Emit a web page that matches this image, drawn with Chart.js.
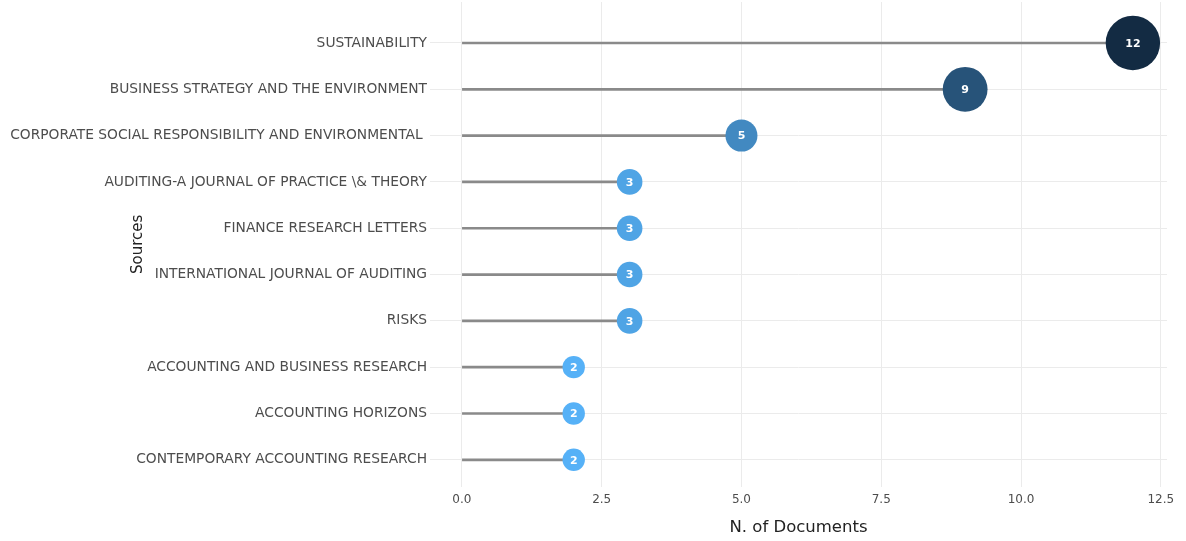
<!DOCTYPE html>
<html>
<head>
<meta charset="utf-8">
<script src="https://cdn.jsdelivr.net/npm/chart.js@4.4.1/dist/chart.umd.min.js"></script>
<style>
  html, body { margin: 0; padding: 0; background: #fff; }
  #wrap { width: 1186px; height: 541px; position: relative; }
</style>
</head>
<body>
<div id="wrap"><canvas id="sourcesChart"></canvas></div>
<script>
const sources = [
  "SUSTAINABILITY",
  "BUSINESS STRATEGY AND THE ENVIRONMENT",
  "CORPORATE SOCIAL RESPONSIBILITY AND ENVIRONMENTAL ",
  "AUDITING-A JOURNAL OF PRACTICE \\& THEORY",
  "FINANCE RESEARCH LETTERS",
  "INTERNATIONAL JOURNAL OF AUDITING",
  "RISKS",
  "ACCOUNTING AND BUSINESS RESEARCH",
  "ACCOUNTING HORIZONS",
  "CONTEMPORARY ACCOUNTING RESEARCH"
];
const documents = [12, 9, 5, 3, 3, 3, 3, 2, 2, 2];
const xTicks = [0, 2.5, 5, 7.5, 10, 12.5];

// gradient low -> high, like ggplot's default continuous scale
const low = [0x56, 0xb1, 0xf7], high = [0x13, 0x2b, 0x43];
const vMin = Math.min(...documents), vMax = Math.max(...documents);
function colorFor(v) {
  const t = (v - vMin) / (vMax - vMin);
  const c = low.map((l, k) => Math.round(l + (high[k] - l) * t));
  return `rgb(${c[0]},${c[1]},${c[2]})`;
}
function radiusFor(v) { return 8 + 1.6 * v; }

const points = documents.map((v, i) => ({ x: v, y: i }));

const bubbleLabels = {
  id: 'bubbleLabels',
  afterDatasetsDraw(chart) {
    const ctx = chart.ctx;
    const meta = chart.getDatasetMeta(1);
    ctx.save();
    ctx.fillStyle = '#ffffff';
    ctx.font = 'bold 11px "DejaVu Sans"';
    ctx.textAlign = 'center';
    ctx.textBaseline = 'middle';
    meta.data.forEach((el, i) => {
      ctx.fillText(String(documents[i]), el.x, el.y + 1);
    });
    ctx.restore();
  }
};

const yTitle = {
  id: 'yTitle',
  afterDraw(chart) {
    const ctx = chart.ctx;
    const area = chart.chartArea;
    ctx.save();
    ctx.translate(138, (area.top + area.bottom) / 2);
    ctx.rotate(-Math.PI / 2);
    ctx.fillStyle = '#222';
    ctx.font = '15px "DejaVu Sans"';
    ctx.textAlign = 'center';
    ctx.textBaseline = 'middle';
    ctx.fillText('Sources', 0, 0);
    ctx.restore();
  }
};

new Chart(document.getElementById('sourcesChart').getContext('2d'), {
  type: 'bubble',
  data: {
    datasets: [{
      type: 'bar',
      indexAxis: 'y',
      data: points,
      backgroundColor: '#8a8a8a',
      barThickness: 2,
      borderWidth: 0,
      order: 2
    }, {
      type: 'bubble',
      data: points,
      backgroundColor: ctx => colorFor(documents[ctx.dataIndex]),
      radius: ctx => radiusFor(documents[ctx.dataIndex]),
      borderWidth: 0,
      clip: false,
      order: 1
    }]
  },
  plugins: [bubbleLabels, yTitle],
  options: {
    responsive: true,
    maintainAspectRatio: false,
    animation: false,
    events: [],
    layout: { autoPadding: false, padding: { top: 2, right: 19, left: 0, bottom: 0 } },
    plugins: {
      legend: { display: false },
      tooltip: { enabled: false }
    },
    scales: {
      x: {
        type: 'linear',
        min: -0.57,
        max: 12.61,
        offset: false,
        afterBuildTicks: s => { s.ticks = xTicks.map(v => ({ value: v })); },
        afterFit: s => { s.paddingLeft = 0; s.paddingRight = 0; },
        ticks: {
          callback: v => v.toFixed(1),
          color: '#4d4d4d',
          font: { family: 'DejaVu Sans', size: 12 },
          padding: 6
        },
        grid: { color: '#ebebeb', drawTicks: false, offset: false },
        border: { display: false },
        title: {
          display: true,
          text: 'N. of Documents',
          color: '#222',
          font: { family: 'DejaVu Sans', size: 16.5 },
          padding: { top: 5, bottom: 3 }
        }
      },
      y: {
        type: 'linear',
        reverse: true,
        min: -0.885,
        max: 9.583,
        offset: false,
        afterBuildTicks: s => { s.ticks = sources.map((_, i) => ({ value: i })); },
        afterFit: s => { s.width = 430; s.paddingTop = 0; s.paddingBottom = 0; },
        ticks: {
          callback: v => sources[v],
          color: '#4d4d4d',
          font: { family: 'DejaVu Sans', size: 13.8 },
          padding: 3
        },
        grid: { color: '#ebebeb', drawTicks: false, offset: false },
        border: { display: false }
      }
    }
  }
});
</script>
</body>
</html>
